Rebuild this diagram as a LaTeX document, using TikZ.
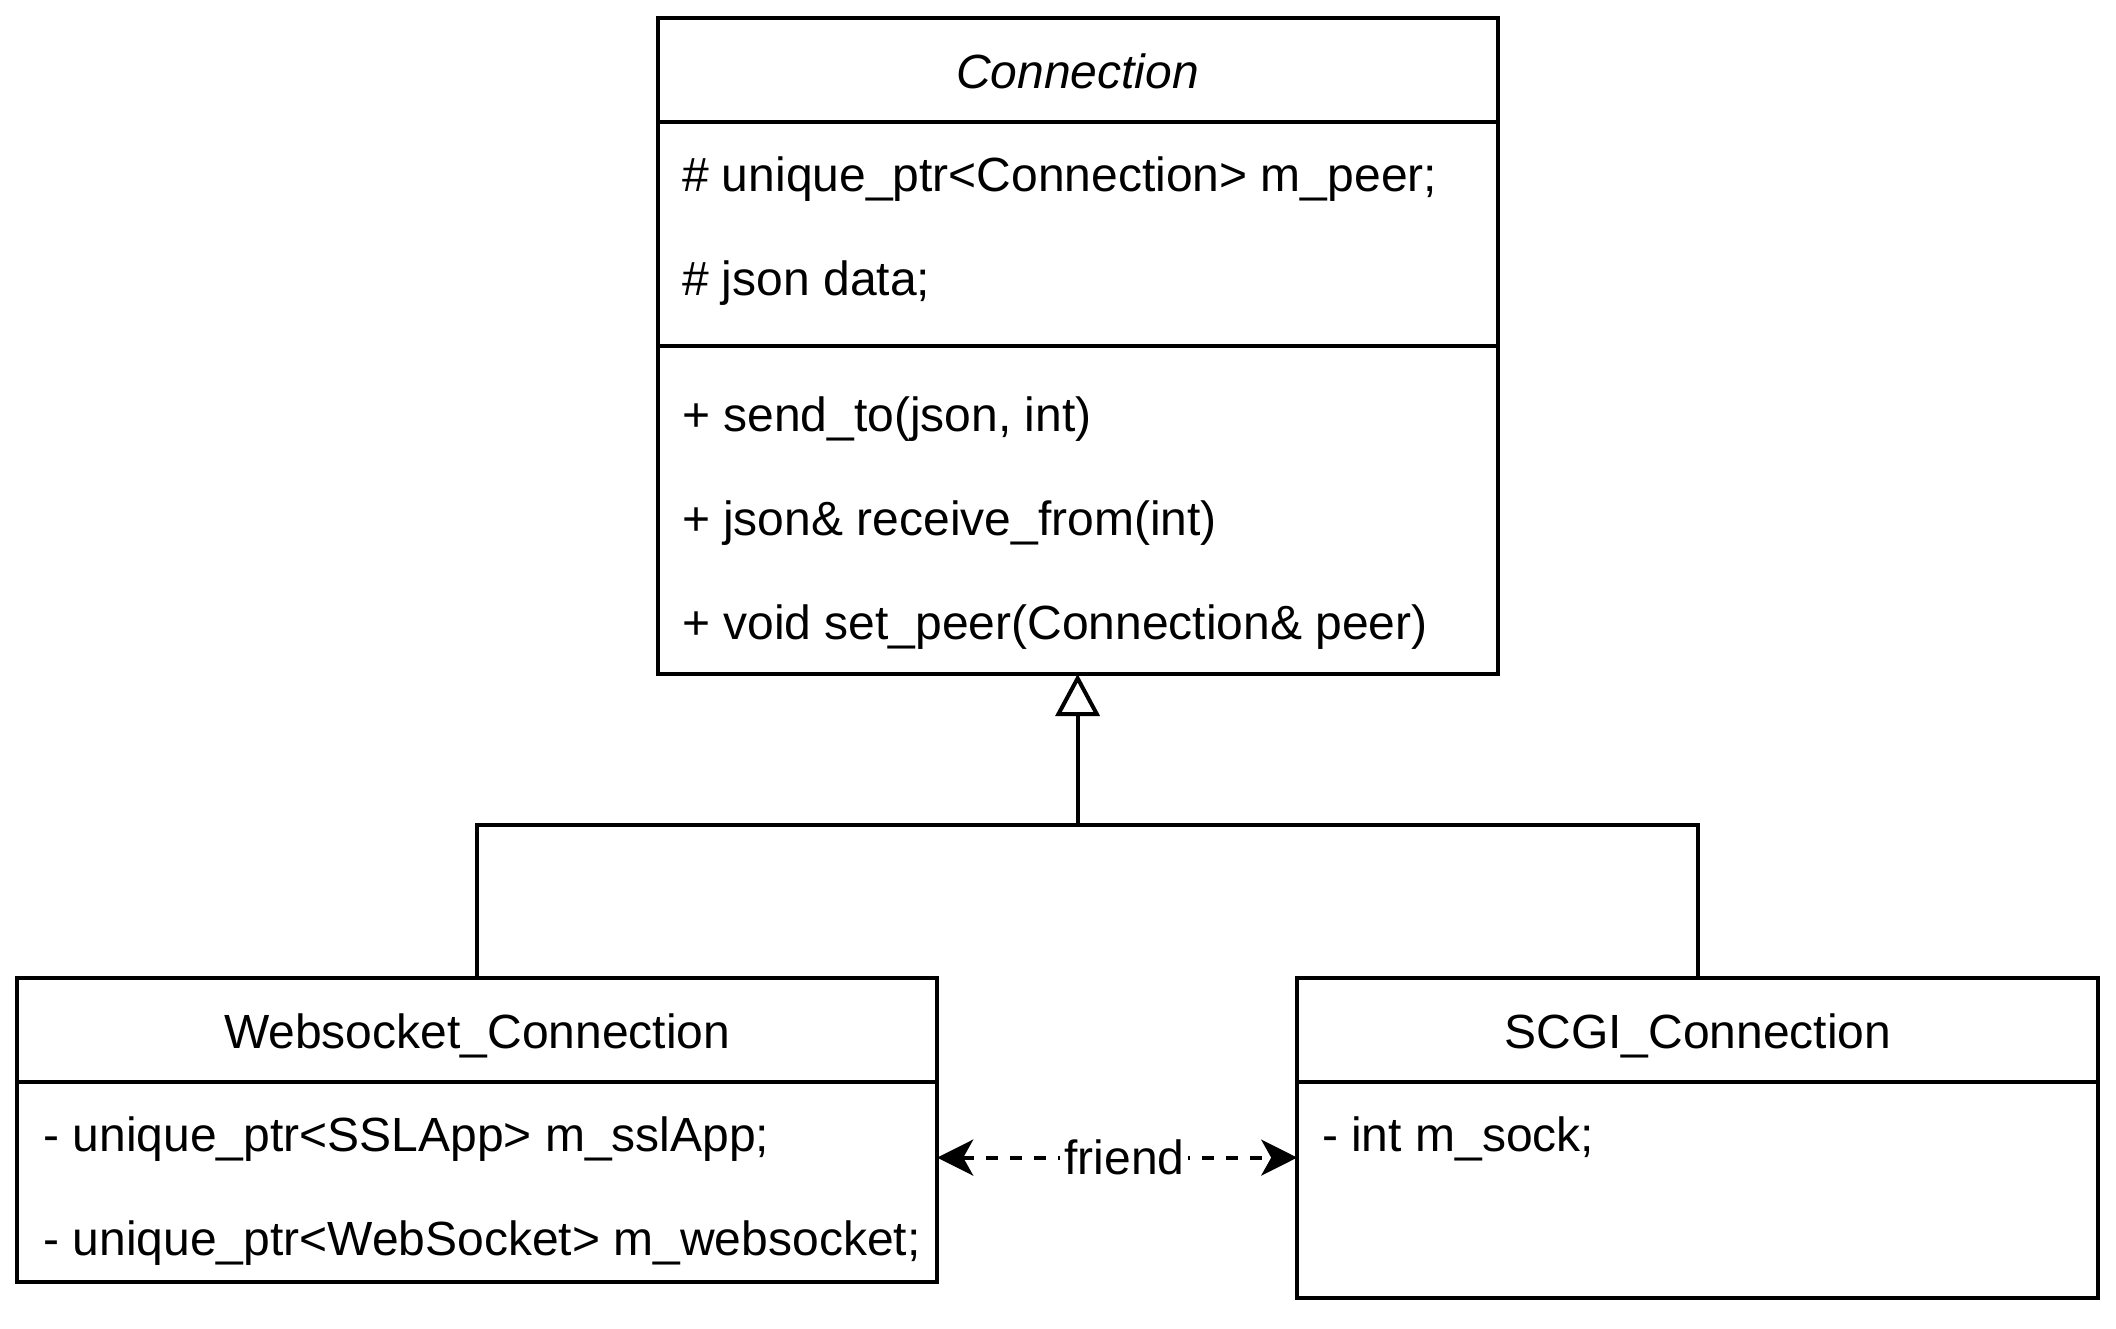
\documentclass[tikz,border=0pt]{standalone}
\usepackage{fontspec}
\setmainfont{Liberation Sans}
\usetikzlibrary{positioning,arrows.meta}

\begin{document}
\begin{tikzpicture}[x=1pt, y=-1pt, line width=1pt, font=\fontsize{12}{14}\selectfont,
	head/.style={draw, outer sep=0pt, inner sep=0pt, minimum height=26pt, text height=9pt, text depth=0pt},
	part/.style={draw, outer sep=0pt, inner sep=0pt},
	member/.style={anchor=base west, inner sep=0pt}]
	\useasboundingbox (0,0) rectangle (529,332);

	\node[head, minimum width=210pt] (conn) at (269.4, 17.5) {\textit{Connection}};
	\node[part, minimum width=210pt, minimum height=56pt, below=0pt of conn] (connAttr) {};
	\node[part, minimum width=210pt, minimum height=82pt, below=0pt of connAttr] (connOps) {};
	\node[member] (peer) at (170, 47.9) {\# unique\_ptr<Connection> m\_peer;};
	\node[member] (data) at (170, 73.9) {\# json data;};
	\node[member] (send) at (170, 107.9) {+ send\_to(json, int)};
	\node[member] (recv) at (170, 133.9) {+ json\& receive\_from(int)};
	\node[member] (setpeer) at (170, 159.9) {+ void set\_peer(Connection\& peer)};

	\node[head, minimum width=230pt] (ws) at (119.3, 257.5) {Websocket\_Connection};
	\node[part, minimum width=230pt, minimum height=50pt, below=0pt of ws] (wsAttr) {};
	\node[member] (ssl) at (10.4, 287.9) {- unique\_ptr<SSLApp> m\_sslApp;};
	\node[member] (sock) at (10.4, 313.9) {- unique\_ptr<WebSocket> m\_websocket;};

	\node[head, minimum width=200.3pt] (scgi) at (424.45, 257.5) {SCGI\_Connection};
	\node[part, minimum width=200.3pt, minimum height=54pt, below=0pt of scgi] (scgiAttr) {};
	\node[member] (msock) at (330, 287.9) {- int m\_sock;};

	\coordinate (fork) at (269.4, 206.25);
	\draw (ws.north) |- (fork) -| (scgi.north);
	\draw[-{Triangle[open, length=10.5pt, width=11pt]}] (fork) -- (connOps.south);

	\draw[dash pattern=on 3pt off 3pt, {Stealth[length=9pt, width=9pt, inset=2.5pt]}-{Stealth[length=9pt, width=9pt, inset=2.5pt]}]
		([yshift=6.1pt]wsAttr.east) -- ([yshift=6.1pt]wsAttr.east -| scgiAttr.west)
		node[pos=0.52, fill=white, inner sep=1pt] (friend) {friend};
\end{tikzpicture}
\end{document}
